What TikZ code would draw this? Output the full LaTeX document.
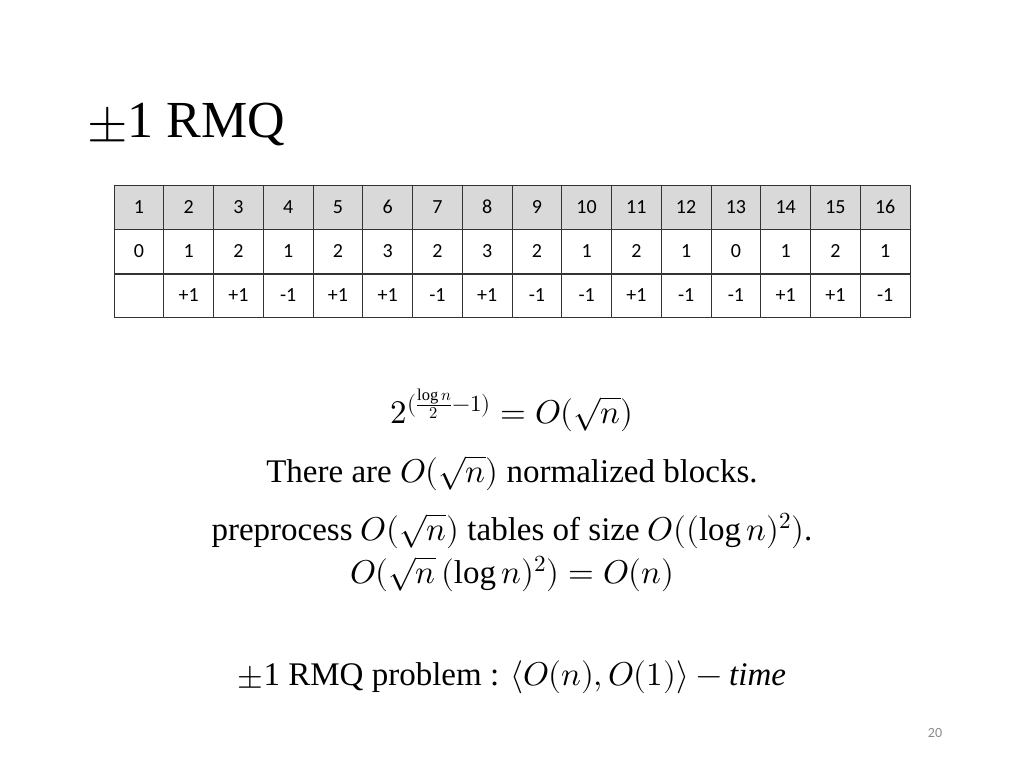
\documentclass[tikz,border=0pt]{standalone}
\usepackage{amsmath}
\usepackage{fontspec}
\usepackage{unicode-math}
\setmainfont{Liberation Serif}
\setmathfont{Latin Modern Math}
\newfontfamily\calibri{Carlito}
\definecolor{headgray}{RGB}{217,217,217}
\definecolor{pagegray}{RGB}{137,137,137}
\tikzset{
  cellbox/.style={draw=black!80,line width=0.8pt,minimum width=49.75pt,minimum height=44pt,inner sep=0pt,font=\calibri\fontsize{20}{22}\selectfont},
  headbox/.style={cellbox,fill=headgray},
  bodytext/.style={font=\fontsize{33}{38}\selectfont,anchor=base},
}
\begin{document}
\begin{tikzpicture}[x=1pt,y=-1pt]
\useasboundingbox (0,0) rectangle (1024,768);

% title
\node[anchor=base west,font=\fontsize{52}{58}\selectfont] (title) at (84,137) {$\pm$1 RMQ};

% table
\foreach \v [count=\i] in {1,...,16}
  \node[headbox] (h\i) at (114+49.75*\i-24.875,207) {\v};
\foreach \v [count=\i] in {0,1,2,1,2,3,2,3,2,1,2,1,0,1,2,1}
  \node[cellbox] (d\i) at (114+49.75*\i-24.875,251.5) {\v};
\foreach \v [count=\i] in {{},+1,+1,-1,+1,+1,-1,+1,-1,-1,+1,-1,-1,+1,+1,-1}
  \node[cellbox,minimum height=43pt] (s\i) at (114+49.75*\i-24.875,295.5) {\v};

% formulas
\node[bodytext] (f1) at (512,423) {$2^{(\frac{\log n}{2}-1)}=O(\sqrt{n})$};
\node[bodytext] (f2) at (512,482) {There are $O(\sqrt{n})$ normalized blocks.};
\node[bodytext] (f3) at (512,540) {preprocess $O(\sqrt{n})$ tables of size $O((\log n)^2)$.};
\node[bodytext] (f4) at (512,583) {$O(\sqrt{n}\,(\log n)^2)=O(n)$};
\node[bodytext] (f5) at (512,685) {$\pm$1 RMQ problem : $\langle O(n),O(1)\rangle-\mathit{time}$};

% page number
\node[font=\calibri\fontsize{14}{16}\selectfont,text=pagegray] (page) at (935,733) {20};
\end{tikzpicture}
\end{document}
